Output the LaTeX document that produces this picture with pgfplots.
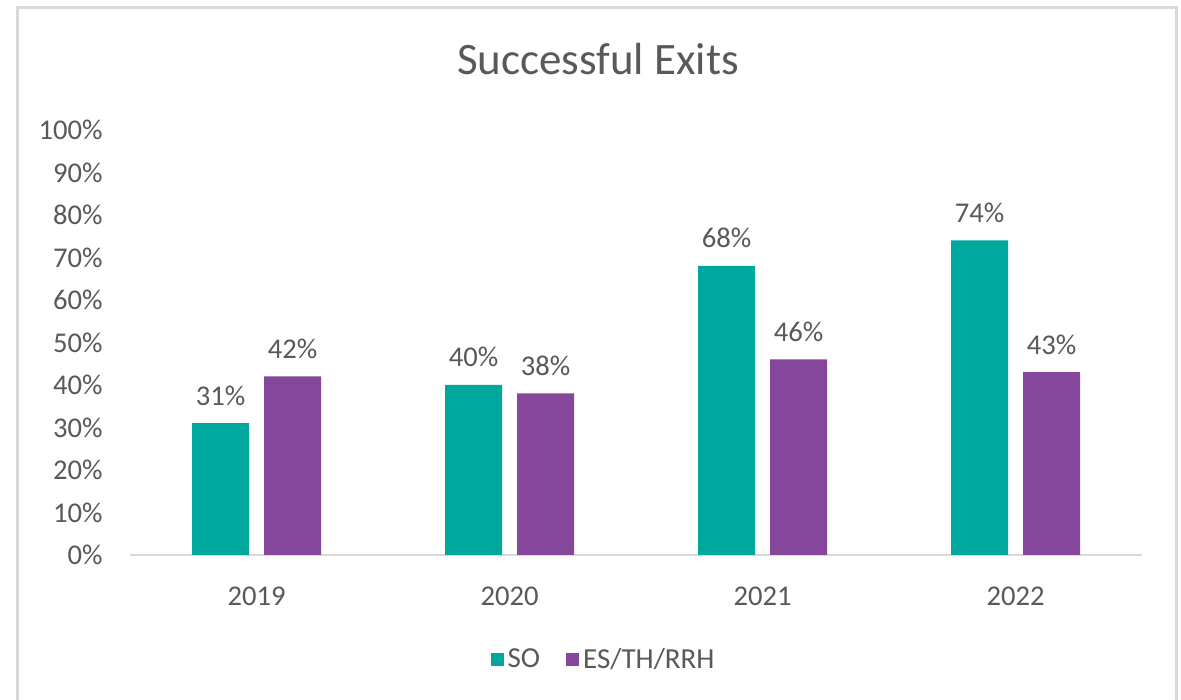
\documentclass[border=0pt]{standalone}
\usepackage{pgfplots}
\pgfplotsset{compat=1.18}
\usepackage{fontspec}
\setmainfont{Carlito}
\definecolor{soteal}{HTML}{00A79D}
\definecolor{espurple}{HTML}{84479A}
\definecolor{txtgray}{HTML}{595959}
\definecolor{linegray}{HTML}{D9D9D9}

\begin{document}
\begin{tikzpicture}
\useasboundingbox (0,0) rectangle (590.5pt,350pt);
\fill[white] (0,0) rectangle (590.5pt,350pt);
% chart frame
\draw[linegray, line width=1.5pt] (8.5pt,-5pt) -- (8.5pt,346pt) -- (588pt,346pt) -- (588pt,-5pt);
\node[anchor=base, text=txtgray, font=\fontsize{22.5}{26}\selectfont] at (299pt,312.5pt) {Successful Exits};

\begin{axis}[
  at={(65pt,72.5pt)}, anchor=south west,
  scale only axis,
  width=506pt, height=212.5pt,
  ybar=7.5pt,
  bar width=28.5pt,
  xmin=-0.5, xmax=3.5,
  ymin=0, ymax=100,
  xtick=data,
  xticklabels={2019,2020,2021,2022},
  ytick={0,10,...,100},
  yticklabels={0\%,10\%,20\%,30\%,40\%,50\%,60\%,70\%,80\%,90\%,100\%},
  axis x line*=bottom,
  axis y line*=left,
  x axis line style={draw=linegray, line width=1pt, -},
  y axis line style={draw=none},
  tick style={draw=none},
  major tick length=0pt,
  tick label style={text=txtgray, font=\fontsize{14.3}{16}\selectfont, inner sep=0pt},
  xticklabel style={anchor=base, yshift=-25pt},
  yticklabel style={anchor=east, xshift=-13.5pt},
  /pgf/number format/assume math mode=true,
  nodes near coords={\pgfmathprintnumber{\pgfplotspointmeta}\%},
  point meta=y,
  every node near coord/.append style={anchor=base, yshift=9.1pt, text=txtgray, font=\fontsize{14.3}{16}\selectfont, inner sep=0pt},
  legend columns=2,
  legend style={at={(0.469,-0.247)}, anchor=center, draw=none, fill=none,
    font=\fontsize{14.5}{16}\selectfont, text=txtgray,
    /tikz/every even column/.append style={column sep=11pt}},
  legend image code/.code={\fill[#1] (0pt,-3.25pt) rectangle (6.5pt,3.25pt);},
]
\addplot[fill=soteal, draw=none] coordinates {(0,31) (1,40) (2,68) (3,74)};
\addplot[fill=espurple, draw=none] coordinates {(0,42) (1,38) (2,46) (3,43)};
\legend{SO, ES/TH/RRH}
\end{axis}
\end{tikzpicture}
\end{document}
